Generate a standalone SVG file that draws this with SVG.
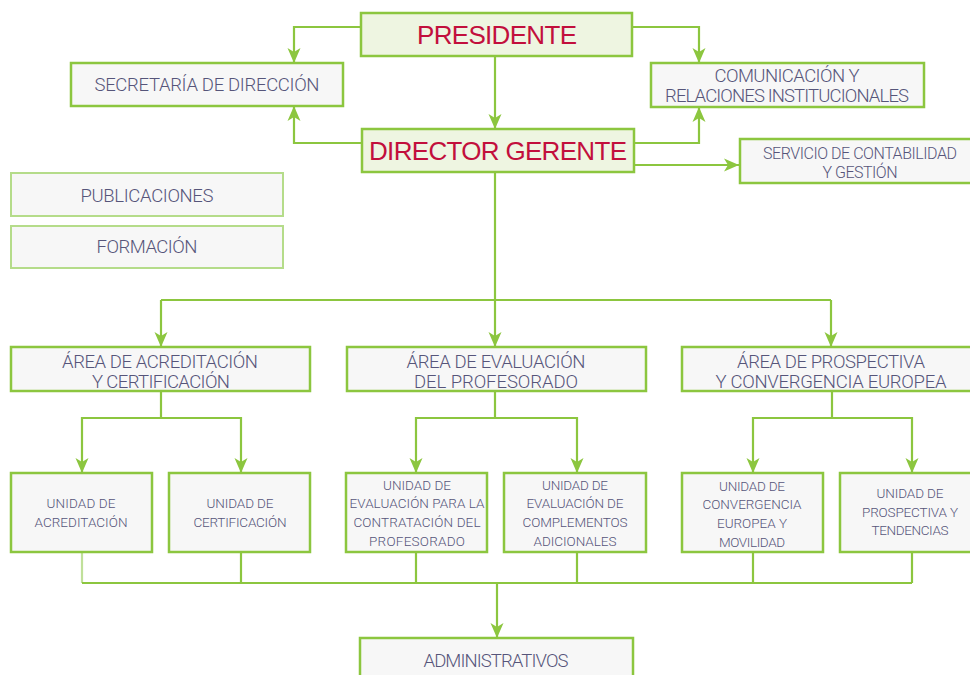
<svg xmlns="http://www.w3.org/2000/svg" width="970" height="675" viewBox="0 0 970 675">
<defs>
<style>
.box{fill:#f7f7f7;stroke:#8cc63f;stroke-width:2.5}
.lite{fill:#f7f7f7;stroke:#b5dc8a;stroke-width:2}
.top{fill:#eef5e1;stroke:#8cc63f;stroke-width:2.5}
.ln{fill:none;stroke:#8cc63f;stroke-width:2.2}
.t{font-family:Roboto,"Liberation Sans",Arial,sans-serif;font-weight:300;fill:#56557a;text-anchor:middle;font-size:18.5px}
.s{font-size:13.5px}
.m{font-size:16px}
.r{font-family:"Liberation Sans",Arial,sans-serif;fill:#c20f3c;text-anchor:middle;font-size:26px}
</style>
<marker id="ar" markerUnits="userSpaceOnUse" viewBox="0 -7 16 14" refX="15" refY="0" markerWidth="16" markerHeight="14" orient="auto">
<path d="M0,-6.5 L15,0 L0,6.5 L4,0 Z" fill="#8cc63f"/>
</marker>
</defs>
<rect width="970" height="675" fill="#ffffff"/>
<g id="connectors">
<path class="ln" d="M361,27 H294 V63" marker-end="url(#ar)"/>
<path class="ln" d="M362,143 H294 V106" marker-end="url(#ar)"/>
<path class="ln" d="M632,27 H699 V63" marker-end="url(#ar)"/>
<path class="ln" d="M634,143 H699 V107" marker-end="url(#ar)"/>
<path class="ln" d="M634,165 H739" marker-end="url(#ar)"/>
<path class="ln" d="M495,56 V129" marker-end="url(#ar)"/>
<path class="ln" d="M495,172 V300"/>
<path class="ln" d="M161,300 H831"/>
<path class="ln" d="M161,300 V347" marker-end="url(#ar)"/>
<path class="ln" d="M495,300 V347" marker-end="url(#ar)"/>
<path class="ln" d="M831,300 V347" marker-end="url(#ar)"/>
<path class="ln" d="M161,391 V418 H82 V473" marker-end="url(#ar)"/>
<path class="ln" d="M161,418 H241 V473" marker-end="url(#ar)"/>
<path class="ln" d="M495,391 V418 H416 V473" marker-end="url(#ar)"/>
<path class="ln" d="M495,418 H577 V473" marker-end="url(#ar)"/>
<path class="ln" d="M832,391 V418 H753 V473" marker-end="url(#ar)"/>
<path class="ln" d="M832,418 H912 V473" marker-end="url(#ar)"/>
<path class="ln" d="M82,552 V583" style="stroke:#c0e09a"/>
<path class="ln" d="M82,583 H912"/>
<path class="ln" d="M241,552 V583 M416,552 V583 M577,552 V583 M753,552 V583 M912,552 V583"/>
<path class="ln" d="M497,583 V638" marker-end="url(#ar)"/>
</g>
<g id="presidente">
<rect class="top" x="361" y="13" width="271" height="43"/>
<text class="r" x="497" y="44" textLength="160">PRESIDENTE</text>
</g>
<g id="director-gerente">
<rect class="top" x="362" y="129" width="272" height="43"/>
<text class="r" x="498" y="160" textLength="258">DIRECTOR GERENTE</text>
</g>
<g id="secretaria">
<rect class="box" x="71" y="63" width="272" height="43"/>
<text class="t" x="207" y="91" textLength="225">SECRETARÍA DE DIRECCIÓN</text>
</g>
<g id="comunicacion">
<rect class="box" x="651" y="63" width="273" height="44"/>
<text class="t" x="787" y="82" textLength="145">COMUNICACIÓN Y</text>
<text class="t" x="787" y="102" textLength="244">RELACIONES INSTITUCIONALES</text>
</g>
<g id="servicio">
<rect class="box" x="740" y="139" width="245" height="44"/>
<text class="t m" x="860" y="159" textLength="194">SERVICIO DE CONTABILIDAD</text>
<text class="t m" x="860" y="178" textLength="75">Y GESTIÓN</text>
</g>
<g id="publicaciones">
<rect class="lite" x="11" y="173" width="272" height="43"/>
<text class="t" x="147" y="202" textLength="133">PUBLICACIONES</text>
</g>
<g id="formacion">
<rect class="lite" x="11" y="226" width="272" height="42"/>
<text class="t" x="147" y="253" textLength="101">FORMACIÓN</text>
</g>
<g id="area-acreditacion">
<rect class="box" x="11" y="347" width="299" height="44"/>
<text class="t" x="160" y="368" textLength="196">ÁREA DE ACREDITACIÓN</text>
<text class="t" x="161" y="388" textLength="138">Y CERTIFICACIÓN</text>
</g>
<g id="area-evaluacion">
<rect class="box" x="347" y="347" width="299" height="44"/>
<text class="t" x="496" y="368" textLength="179">ÁREA DE EVALUACIÓN</text>
<text class="t" x="496" y="388" textLength="164">DEL PROFESORADO</text>
</g>
<g id="area-prospectiva">
<rect class="box" x="682" y="347" width="300" height="44"/>
<text class="t" x="831" y="368" textLength="188">ÁREA DE PROSPECTIVA</text>
<text class="t" x="831" y="388" textLength="231">Y CONVERGENCIA EUROPEA</text>
</g>
<g id="unidad-acreditacion">
<rect class="box" x="11" y="473" width="141" height="79"/>
<text class="t s" x="81" y="508" textLength="69">UNIDAD DE</text>
<text class="t s" x="81" y="527" textLength="93">ACREDITACIÓN</text>
</g>
<g id="unidad-certificacion">
<rect class="box" x="169" y="473" width="141" height="79"/>
<text class="t s" x="240" y="508" textLength="67">UNIDAD DE</text>
<text class="t s" x="240" y="527" textLength="93">CERTIFICACIÓN</text>
</g>
<g id="unidad-contratacion">
<rect class="box" x="346" y="473" width="141" height="79"/>
<text class="t s" x="417" y="490" textLength="68">UNIDAD DE</text>
<text class="t s" x="417" y="508" textLength="135">EVALUACIÓN PARA LA</text>
<text class="t s" x="417" y="527" textLength="127">CONTRATACIÓN DEL</text>
<text class="t s" x="417" y="546" textLength="96">PROFESORADO</text>
</g>
<g id="unidad-complementos">
<rect class="box" x="504" y="473" width="142" height="79"/>
<text class="t s" x="575" y="490" textLength="66">UNIDAD DE</text>
<text class="t s" x="575" y="508" textLength="97">EVALUACIÓN DE</text>
<text class="t s" x="575" y="527" textLength="105">COMPLEMENTOS</text>
<text class="t s" x="575" y="546" textLength="83">ADICIONALES</text>
</g>
<g id="unidad-convergencia">
<rect class="box" x="682" y="473" width="141" height="79"/>
<text class="t s" x="752" y="491" textLength="66">UNIDAD DE</text>
<text class="t s" x="752" y="509" textLength="99">CONVERGENCIA</text>
<text class="t s" x="752" y="528" textLength="70">EUROPEA Y</text>
<text class="t s" x="752" y="547" textLength="66">MOVILIDAD</text>
</g>
<g id="unidad-prospectiva">
<rect class="box" x="840" y="473" width="142" height="79"/>
<text class="t s" x="910" y="498" textLength="67">UNIDAD DE</text>
<text class="t s" x="910" y="517" textLength="96">PROSPECTIVA Y</text>
<text class="t s" x="910" y="535" textLength="77">TENDENCIAS</text>
</g>
<g id="administrativos">
<rect class="box" x="360" y="638" width="273" height="50"/>
<text class="t" x="496" y="667" textLength="145">ADMINISTRATIVOS</text>
</g>
</svg>
